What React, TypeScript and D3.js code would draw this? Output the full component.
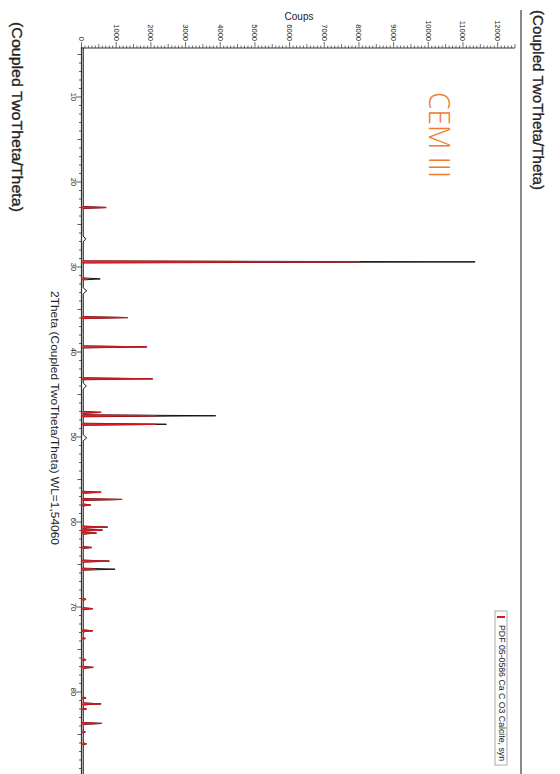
import React from "react";
import * as d3 from "d3";

// 2Theta axis ticks (degrees) and Coups axis ticks
const twoThetaTicks = [10, 20, 30, 40, 50, 60, 70, 80];
const countTicks = [0, 1000, 2000, 3000, 4000, 5000, 6000, 7000, 8000, 9000, 10000, 11000, 12000];

// Reference pattern PDF 05-0586 CaCO3 Calcite, syn : [2theta, counts]
const refPeaks: [number, number][] = [
  [23.0, 720],
  [29.4, 8030],
  [31.4, 150],
  [35.95, 1340],
  [39.4, 1890],
  [43.15, 2060],
  [47.1, 570],
  [47.5, 2160],
  [48.5, 2160],
  [56.5, 570],
  [57.35, 1175],
  [58.0, 270],
  [60.6, 760],
  [60.95, 615],
  [61.3, 440],
  [63.0, 300],
  [64.6, 810],
  [65.55, 420],
  [69.1, 135],
  [70.2, 330],
  [72.8, 330],
  [73.7, 120],
  [76.2, 135],
  [77.1, 340],
  [80.7, 135],
  [81.4, 570],
  [82.0, 150],
  [83.7, 595],
  [84.7, 115],
  [86.1, 150],
];

// Measured scan peaks (black): [2theta, counts]
const scanPeaks: [number, number][] = [
  [23.0, 700],
  [29.4, 11350],
  [31.4, 540],
  [35.95, 1330],
  [39.4, 1880],
  [43.15, 2050],
  [47.1, 560],
  [47.5, 3870],
  [48.5, 2450],
  [56.5, 560],
  [57.35, 1160],
  [58.0, 260],
  [60.6, 750],
  [60.95, 600],
  [61.3, 430],
  [63.0, 290],
  [64.6, 800],
  [65.55, 970],
  [69.1, 130],
  [70.2, 320],
  [72.8, 320],
  [73.7, 110],
  [76.2, 130],
  [77.1, 340],
  [80.7, 130],
  [81.4, 560],
  [82.0, 140],
  [83.7, 590],
  [84.7, 110],
  [86.1, 140],
];

// Small broad humps in the measured scan: [2theta, counts]
const scanBumps: [number, number][] = [
  [26.7, 120],
  [32.8, 150],
  [44.0, 140],
  [50.1, 150],
];

const BASELINE = 50;
const legendLabel = "PDF 05-0586 Ca C O3 Calcite, syn";

export default function App() {
  const W = 560;
  const H = 774;
  const x = d3.scaleLinear().domain([0, 12500]).range([81.5, 515]);
  const y = d3.scaleLinear().domain([4.2, 89.8]).range([47.7, 775.3]);

  const pts: [number, number][] = [[4.2, BASELINE], [89.8, BASELINE]];
  scanBumps.forEach(([p, h]) => {
    pts.push([p - 0.35, BASELINE], [p, h], [p + 0.35, BASELINE]);
  });
  scanPeaks.forEach(([p, h]) => {
    pts.push([p - 0.12, BASELINE], [p, h], [p + 0.12, BASELINE]);
  });
  pts.sort((a, b) => a[0] - b[0]);
  const line = d3
    .line<[number, number]>()
    .x((d) => x(d[1]))
    .y((d) => y(d[0]));
  const scanPath = line(pts) || "";

  const minorCounts = d3.range(0, 12501, 100);
  const minorTheta = d3.range(5, 90, 1);
  const font = "'Liberation Sans Narrow', 'Liberation Sans', Arial, sans-serif";

  return (
    <svg
      width={W}
      height={H}
      style={{ position: "absolute", left: 0, top: 0, background: "#fff" }}
      fontFamily={font}
    >
      <rect x={0} y={0} width={W} height={H} fill="#fff" />
      {/* side titles */}
      <text
        transform={`translate(17,117) rotate(90)`}
        textAnchor="middle"
        dominantBaseline="central"
        fontSize={14}
        fill="#222"
        stroke="#222"
        strokeWidth={0.3}
        textLength={190}
        lengthAdjust="spacingAndGlyphs"
      >
        (Coupled TwoTheta/Theta)
      </text>
      <text
        transform={`translate(538,100) rotate(90)`}
        textAnchor="middle"
        dominantBaseline="central"
        fontSize={14}
        fill="#222"
        stroke="#222"
        strokeWidth={0.3}
        textLength={180}
        lengthAdjust="spacingAndGlyphs"
      >
        (Coupled TwoTheta/Theta)
      </text>
      <line x1={521} x2={521} y1={10} y2={774} stroke="#8a8a8a" strokeWidth={2} />

      {/* axis title */}
      <text x={299} y={16} textAnchor="middle" dominantBaseline="central" fontSize={10} fill="#222">
        Coups
      </text>
      <text
        transform={`translate(55,418) rotate(90)`}
        textAnchor="middle"
        dominantBaseline="central"
        fontSize={10.5}
        fill="#222"
        textLength={254}
        lengthAdjust="spacingAndGlyphs"
      >
        2Theta (Coupled TwoTheta/Theta) WL=1,54060
      </text>

      {/* top counts axis */}
      <line x1={x(0)} x2={515} y1={48} y2={48} stroke="#333" strokeWidth={1} />
      {minorCounts.map((c) => {
        const len = c % 1000 === 0 ? 6 : c % 500 === 0 ? 4 : 2.5;
        return <line key={"mc" + c} x1={x(c)} x2={x(c)} y1={48} y2={48 - len} stroke="#333" strokeWidth={0.7} />;
      })}
      {countTicks.map((c) => (
        <text
          key={"ct" + c}
          transform={`translate(${x(c)},${41}) rotate(90)`}
          textAnchor="end"
          dominantBaseline="central"
          fontSize={7.5}
          fill="#222"
        >
          {c}
        </text>
      ))}

      {/* left 2theta axis */}
      <line x1={x(0)} x2={x(0)} y1={47} y2={774} stroke="#333" strokeWidth={1.2} />
      {minorTheta.map((t) => {
        const len = t % 10 === 0 ? 6 : t % 5 === 0 ? 4 : 2.5;
        return <line key={"mt" + t} x1={x(0) - len} x2={x(0)} y1={y(t)} y2={y(t)} stroke="#333" strokeWidth={0.8} />;
      })}
      {twoThetaTicks.map((t) => (
        <text
          key={"tt" + t}
          transform={`translate(${73},${y(t)}) rotate(90)`}
          textAnchor="middle"
          dominantBaseline="central"
          fontSize={7.5}
          fill="#222"
        >
          {t}
        </text>
      ))}

      {/* measured scan */}
      <path d={scanPath} fill="none" stroke="#111" strokeWidth={1} strokeLinejoin="round" />

      {/* reference peaks */}
      {refPeaks.map(([p, h], i) => (
        <path
          key={"rp" + i}
          d={`M${x(0)},${y(p - 0.08)}L${x(h)},${y(p)}L${x(0)},${y(p + 0.08)}`}
          fill="none"
          stroke="#e0161c"
          strokeWidth={1.3}
          strokeOpacity={0.92}
        />
      ))}

      {/* sample label */}
      <text
        transform={`translate(440,135) rotate(90)`}
        textAnchor="middle"
        dominantBaseline="central"
        fontSize={30}
        fill="#ee7d31"
        textLength={86}
        lengthAdjust="spacingAndGlyphs"
        fontFamily="'Open Sans', 'Liberation Sans Narrow', sans-serif"
        fontWeight={300}
      >
        CEM III
      </text>

      {/* legend */}
      <rect x={495} y={611} width={12} height={154} fill="#fff" stroke="#aaa" strokeWidth={1} />
      <line x1={497} x2={505} y1={617} y2={617} stroke="#e0161c" strokeWidth={2} />
      <text
        transform={`translate(501.5,693) rotate(90)`}
        textAnchor="middle"
        dominantBaseline="central"
        fontSize={8.5}
        fill="#222"
        textLength={136}
        lengthAdjust="spacingAndGlyphs"
      >
        {legendLabel}
      </text>
    </svg>
  );
}
